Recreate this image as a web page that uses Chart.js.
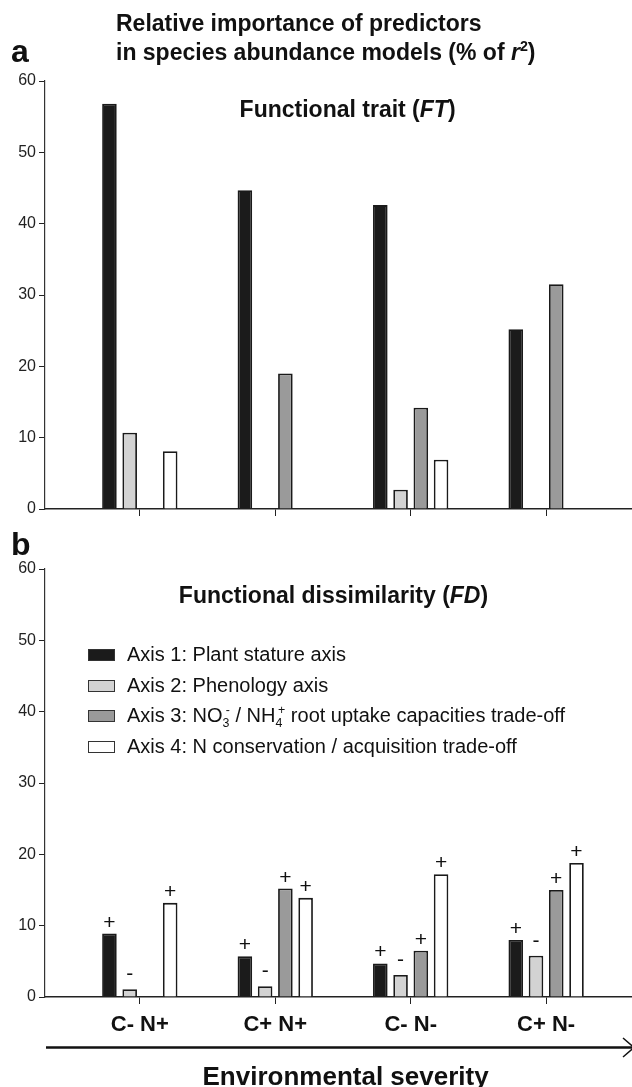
<!DOCTYPE html>
<html>
<head>
<meta charset="utf-8">
<script src="https://cdn.jsdelivr.net/npm/chart.js@4.4.0/dist/chart.umd.min.js"></script>
<style>
  html, body { margin: 0; padding: 0; background: #fff; }
  body { width: 632px; height: 1087px; position: relative; overflow: hidden;
         font-family: "Liberation Sans", Arial, Helvetica, sans-serif; color: #111; }
  canvas { position: absolute; left: 0; }
  .txt { position: absolute; white-space: nowrap; line-height: 1; }
  .bold { font-weight: bold; }
  .ctr { width: 500px; text-align: center; }
  sup, sub { line-height: 0; font-size: 0.62em; }
  .leg { position: absolute; left: 127px; font-size: 20px; line-height: 1; white-space: nowrap; }
  .sw { position: absolute; left: 87.5px; width: 25px; height: 10px; border: 1px solid #333; }
</style>
</head>
<body>
<canvas id="chartA" width="632" height="540" style="top:0"></canvas>
<canvas id="chartB" width="632" height="547" style="top:540px"></canvas>

<div class="txt bold" style="left:116px; top:12px; font-size:23px;">Relative importance of predictors</div>
<div class="txt bold" style="left:116px; top:41px; font-size:23px;">in species abundance models (% of <i>r</i><sup>2</sup>)</div>
<div class="txt bold" style="left:11px; top:35px; font-size:32px;">a</div>
<div class="txt bold ctr" style="left:97.6px; top:97.5px; font-size:23px;">Functional trait (<i>FT</i>)</div>
<div class="txt bold" style="left:11px; top:528px; font-size:32px;">b</div>
<div class="txt bold ctr" style="left:83.5px; top:584px; font-size:23px;">Functional dissimilarity (<i>FD</i>)</div>
<div id="legend"></div>
<svg style="position:absolute; left:0; top:1035px" width="632" height="25">
  <line x1="46" y1="12.5" x2="632" y2="12.5" stroke="#111" stroke-width="2.5"/>
  <polyline points="623,3 634,12.5 623,22" fill="none" stroke="#111" stroke-width="1.5"/>
</svg>
<div class="txt bold ctr" style="left:95.6px; top:1063px; font-size:26px;">Environmental severity</div>

<script>
// categories along the severity gradient
const categories = ['C- N+', 'C+ N+', 'C- N-', 'C+ N-'];

// legend entries (HTML for the sub/superscripts)
const legendLabels = [
  'Axis 1: Plant stature axis',
  'Axis 2: Phenology axis',
  'Axis 3: NO<sub>3</sub><sup style="margin-left:-0.3em">-</sup> / NH<sub>4</sub><sup style="margin-left:-0.35em">+</sup> root uptake capacities trade-off',
  'Axis 4: N conservation / acquisition trade-off'
];
const seriesNames = ['Axis 1', 'Axis 2', 'Axis 3', 'Axis 4'];
const fills = ['#1b1b1b', '#d3d3d3', '#9a9a9a', '#ffffff'];

// panel a: functional trait (% of r2)
const ftAxis1 = [56.8, 44.7, 42.6, 25.2];
const ftAxis2 = [10.7, null, 2.7, null];
const ftAxis3 = [null, 19.0, 14.2, 31.5];
const ftAxis4 = [8.1, null, 6.9, null];

// panel b: functional dissimilarity (% of r2)
const fdAxis1 = [8.9, 5.7, 4.7, 8.0];
const fdAxis2 = [1.1, 1.5, 3.1, 5.8];
const fdAxis3 = [null, 15.2, 6.5, 15.0];
const fdAxis4 = [13.2, 13.9, 17.2, 18.8];

// sign of the effect printed above panel b bars
const fdSigns1 = ['+', '+', '+', '+'];
const fdSigns2 = ['-', '-', '-', '-'];
const fdSigns3 = [null, '+', '+', '+'];
const fdSigns4 = ['+', '+', '+', '+'];

const yTicks = [0, 10, 20, 30, 40, 50, 60];

const FONT = '"Liberation Sans", Arial, Helvetica, sans-serif';

// legend
const legendDiv = document.getElementById('legend');
const legendBaselines = [661, 691.5, 722, 752.5];
legendLabels.forEach((lbl, i) => {
  const b = legendBaselines[i];
  legendDiv.insertAdjacentHTML('beforeend',
    `<div class="sw" style="top:${b - 12}px; background:${fills[i]}"></div>` +
    `<div class="leg" style="top:${(b - 0.8465 * 20).toFixed(1)}px">${lbl}</div>`);
});

const signPlugin = {
  id: 'signs',
  afterDatasetsDraw(chart, args, opts) {
    if (!opts.signs) return;
    const ctx = chart.ctx;
    ctx.save();
    ctx.font = '21px ' + FONT;
    ctx.fillStyle = '#111';
    ctx.textAlign = 'center';
    ctx.textBaseline = 'alphabetic';
    chart.data.datasets.forEach((ds, di) => {
      const meta = chart.getDatasetMeta(di);
      meta.data.forEach((bar, i) => {
        const s = opts.signs[di][i];
        if (!s || ds.data[i].y == null) return;
        ctx.fillText(s, bar.x, bar.y - (s === '+' ? 5 : 9));
      });
    });
    ctx.restore();
  }
};

function makePanel(canvasId, series, signs, showLabels, padTop, xHeight, padBottom) {
  const ctx = document.getElementById(canvasId).getContext('2d');
  return new Chart(ctx, {
    type: 'bar',
    data: {
      datasets: series.map((vals, k) => ({
        label: seriesNames[k],
        data: vals.map((v, i) => ({ x: i, y: v })),
        backgroundColor: fills[k],
        borderColor: '#1a1a1a',
        borderWidth: 1.8,
        categoryPercentage: 0.598,
        barPercentage: 0.72
      }))
    },
    plugins: [signPlugin],
    options: {
      responsive: false,
      animation: false,
      devicePixelRatio: 1,
      layout: { padding: { top: padTop, right: 0, bottom: padBottom, left: 0 } },
      plugins: {
        legend: { display: false },
        tooltip: { enabled: false },
        signs: { signs: signs }
      },
      scales: {
        x: {
          type: 'linear',
          min: -0.7,
          max: 3.634,
          offset: false,
          afterBuildTicks: axis => { axis.ticks = categories.map((c, i) => ({ value: i })); },
          afterFit: axis => { axis.height = xHeight; },
          grid: { drawOnChartArea: false, drawTicks: true, tickLength: 7, color: '#222', offset: false },
          border: { display: true, color: '#222', width: 1.5 },
          ticks: {
            autoSkip: false,
            maxRotation: 0,
            padding: 8,
            color: '#111',
            font: { family: FONT, size: 22, weight: 'bold' },
            callback: v => showLabels ? categories[v] : ''
          }
        },
        y: {
          min: 0,
          max: 60,
          afterBuildTicks: axis => { axis.ticks = yTicks.map(v => ({ value: v })); },
          afterFit: axis => { axis.width = 45; },
          grid: { drawOnChartArea: false, drawTicks: true, tickLength: 6, color: '#222' },
          border: { display: true, color: '#333', width: 1.2 },
          ticks: { padding: 3, color: '#222', font: { family: FONT, size: 16 } }
        }
      }
    }
  });
}

makePanel('chartA', [ftAxis1, ftAxis2, ftAxis3, ftAxis4], null, false, 81, 31, 0);
makePanel('chartB', [fdAxis1, fdAxis2, fdAxis3, fdAxis4],
  [fdSigns1, fdSigns2, fdSigns3, fdSigns4], true, 29, 50, 40);
</script>
</body>
</html>
